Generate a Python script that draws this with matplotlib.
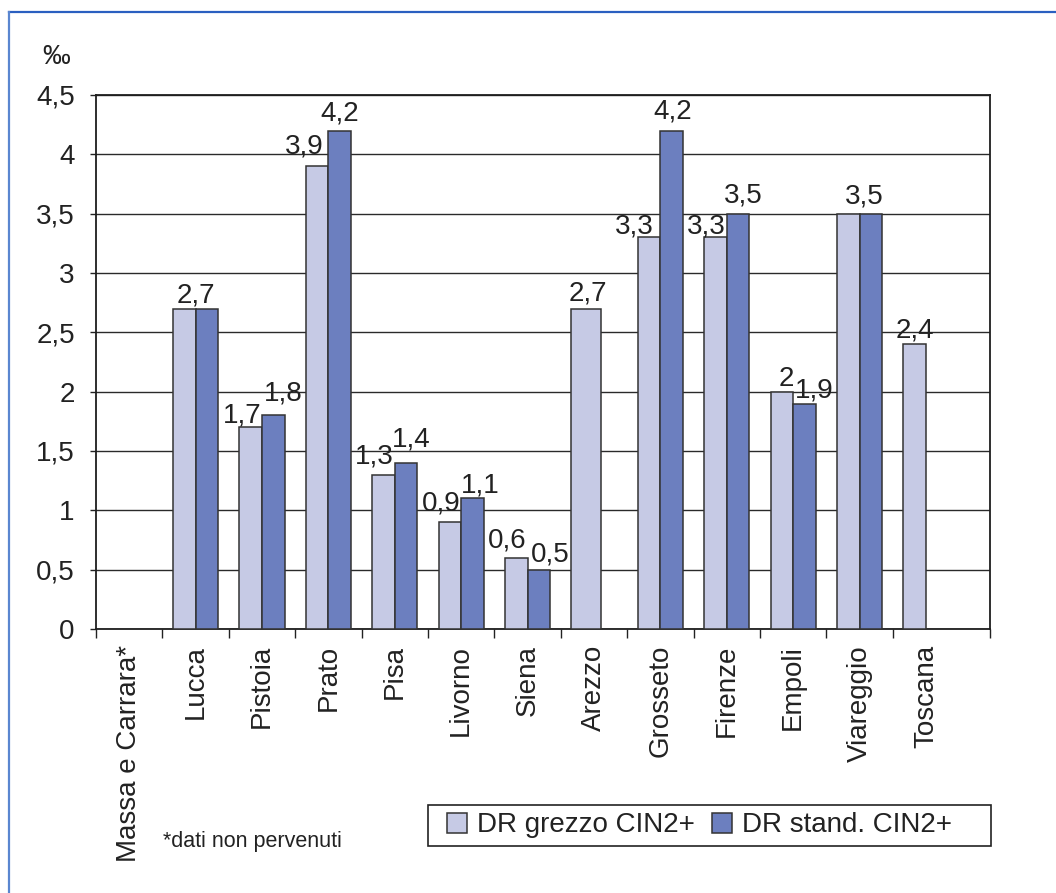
import matplotlib
matplotlib.use("Agg")
import matplotlib.pyplot as plt
from matplotlib.patches import Patch, Rectangle
from matplotlib.lines import Line2D

plt.rcParams['font.family'] = ['Liberation Sans', 'DejaVu Sans']

# Detection rate CIN2+ (per mille) by screening programme
programmes = ["Massa e Carrara*", "Lucca", "Pistoia", "Prato", "Pisa", "Livorno",
              "Siena", "Arezzo", "Grosseto", "Firenze", "Empoli", "Viareggio", "Toscana"]
dr_grezzo = [None, 2.7, 1.7, 3.9, 1.3, 0.9, 0.6, 2.7, 3.3, 3.3, 2.0, 3.5, 2.4]
dr_stand = [None, 2.7, 1.8, 4.2, 1.4, 1.1, 0.5, None, 4.2, 3.5, 1.9, 3.5, None]
y_ticks = [0, 0.5, 1, 1.5, 2, 2.5, 3, 3.5, 4, 4.5]
y_tick_labels = ["0", "0,5", "1", "1,5", "2", "2,5", "3", "3,5", "4", "4,5"]
legend_labels = ["DR grezzo CIN2+", "DR stand. CIN2+"]

# value labels that are shown (one label where both series coincide)
show_grezzo = [False, True, True, True, True, True, True, True, True, True, True, True, True]
show_stand = [False, False, True, True, True, True, True, False, True, True, True, False, False]

# label offsets in pixels (dx from bar centre, dy baseline above bar top)
grezzo_off = [(0, 0), (12, 6), (-9, 5), (-13, 13), (-9, 11), (-9, 12), (-9, 10),
              (2, 8), (-15, 4), (-9, 4), (4, 6), (16, 10), (0, 7)]
stand_off = [(0, 0), (0, 0), (10, 15), (0, 10), (5, 16), (8, 6), (11, 8),
             (0, 0), (1, 12), (5, 11), (10, 6), (0, 0), (0, 0)]

LIGHT = "#c6cae5"
DARK = "#6c7fbf"
EDGE = "#333333"
TXT = "#222222"
FS = 20

W, H = 1056, 893
fig = plt.figure(figsize=(W / 100, H / 100), dpi=100)
x0, x1, y0, y1 = 96, 990, 95, 629
ax = fig.add_axes([x0 / W, 1 - y1 / H, (x1 - x0) / W, (y1 - y0) / H])

n = len(programmes)
x_right = 13.464
bar_w = 0.34
light_w = [bar_w] * n
light_w[7] = 0.44  # Arezzo column drawn wider

for i in range(n):
    c = i + 0.5
    if dr_grezzo[i] is not None:
        left = c - bar_w
        ax.bar(left, dr_grezzo[i], width=light_w[i], align='edge', color=LIGHT,
               edgecolor=EDGE, linewidth=1.1, zorder=3)
        if show_grezzo[i]:
            dx, dy = grezzo_off[i]
            ax.annotate(f"{dr_grezzo[i]:g}".replace(".", ","),
                        xy=(left + light_w[i] / 2, dr_grezzo[i]), xytext=(dx, dy),
                        textcoords='offset pixels', ha='center', va='baseline',
                        fontsize=FS, color=TXT, zorder=5)
    if dr_stand[i] is not None:
        ax.bar(c, dr_stand[i], width=bar_w, align='edge', color=DARK,
               edgecolor=EDGE, linewidth=1.1, zorder=3)
        if show_stand[i]:
            dx, dy = stand_off[i]
            ax.annotate(f"{dr_stand[i]:g}".replace(".", ","),
                        xy=(c + bar_w / 2, dr_stand[i]), xytext=(dx, dy),
                        textcoords='offset pixels', ha='center', va='baseline',
                        fontsize=FS, color=TXT, zorder=5)

ax.set_xlim(0, x_right)
ax.set_ylim(0, 4.5)
ax.set_yticks(y_ticks)
ax.set_yticklabels(y_tick_labels)
ax.yaxis.grid(True, color="#2a2a2a", linewidth=1.0)
ax.set_axisbelow(True)

ax.set_xticks(list(range(13)) + [x_right])
ax.set_xticklabels([])
ax.set_xticks([i + 0.5 for i in range(n)], minor=True)
ax.set_xticklabels(programmes, minor=True, rotation=90, fontsize=FS, color=TXT)
ax.tick_params(axis='x', which='major', direction='out', length=6.5, width=1.0, color=TXT)
ax.tick_params(axis='x', which='minor', length=0, pad=11.5)
ax.tick_params(axis='y', direction='out', length=4.3, width=1.0, pad=11,
               labelsize=FS, labelcolor=TXT, color=TXT)
for sp in ax.spines.values():
    sp.set_color("#1e1e1e")
    sp.set_linewidth(1.3)

fig.text(56 / W, 1 - 57 / H, "‰", ha='center', va='center', fontsize=FS, color=TXT)

# legend: entries placed inside a separately drawn box
handles = [Patch(facecolor=LIGHT, edgecolor=EDGE, linewidth=1.1),
           Patch(facecolor=DARK, edgecolor=EDGE, linewidth=1.1)]
leg = fig.legend(handles, legend_labels, ncol=2, loc='center left',
                 bbox_to_anchor=(447 / W, 1 - 825.5 / H), fontsize=FS,
                 frameon=False, handlelength=0.72, handleheight=0.72,
                 handletextpad=0.36, columnspacing=0.6, borderpad=0,
                 borderaxespad=0)
for t in leg.get_texts():
    t.set_color(TXT)
fig.add_artist(Rectangle((428, H - 846), 991 - 428, 846 - 805, transform=None,
                         fill=False, edgecolor="#222222", linewidth=1.2))

fig.text(163 / W, 1 - 842 / H, "*dati non pervenuti", ha='left', va='center',
         fontsize=15.5, color=TXT)

# outer frame lines
fig.add_artist(Line2D([9, W], [H - 12, H - 12], transform=None, color="#2a5fc0", linewidth=1.6))
fig.add_artist(Line2D([9, 9], [0, H - 12], transform=None, color="#5a86d0", linewidth=1.6))

fig.savefig("out.png", dpi=100)
